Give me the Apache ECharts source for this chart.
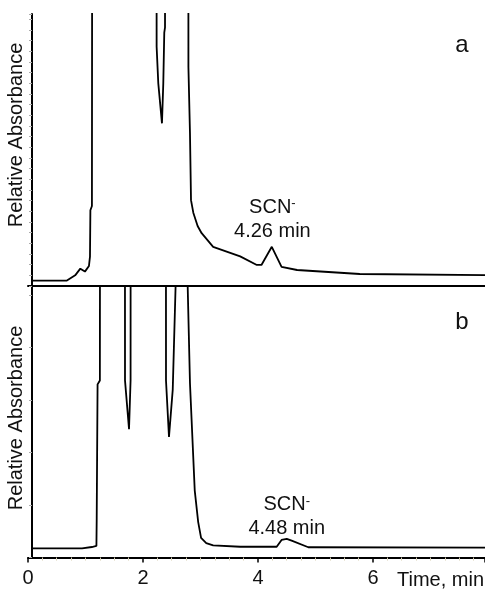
<!DOCTYPE html>
<html>
<head>
<meta charset="utf-8">
<script src="https://cdn.jsdelivr.net/npm/echarts@6/dist/echarts.min.js"></script>
<style>
html,body{margin:0;padding:0;background:#fff;}
#main{width:485px;height:589px;}
</style>
</head>
<body>
<div id="main"></div>
<script>
var font = 'Liberation Sans, Arial, sans-serif';

// chromatogram a (time in min, relative absorbance, peaks run off scale)
var timeA  = [0.07, 0.67, 0.82, 0.91, 0.99, 1.06, 1.078, 1.085, 1.112, 1.118, 2.235, 2.237, 2.266, 2.33, 2.353, 2.37, 2.383, 2.385,
              2.787, 2.79, 2.817, 2.835, 2.875, 2.95, 3.02, 3.22, 3.69, 3.98, 4.06, 4.24, 4.41, 4.68, 5.77, 7.95];
var valueA = [0, 0, 2.0, 4.5, 3.4, 5.5, 9, 26.4, 28, 200, 200, 87.7, 74, 59, 74, 93, 95, 200,
              200, 80, 55.4, 30.2, 25.5, 20.5, 17.8, 12.7, 9.1, 5.9, 5.9, 12.7, 5.2, 4.0, 2.5, 2.1];

// chromatogram b
var timeB  = [0.07, 0.94, 1.11, 1.19, 1.195, 1.21, 1.25, 1.255, 1.685, 1.687, 1.757, 1.784, 1.786,
              2.398, 2.40, 2.452, 2.517, 2.567, 2.569, 2.775, 2.777, 2.817, 2.90, 2.96, 3.01, 3.10, 3.22, 3.69,
              4.325, 4.41, 4.50, 4.585, 4.875, 7.95];
var valueB = [0, 0, 0.5, 0.9, 11.5, 62.5, 64, 200, 200, 64, 45.4, 64, 200,
              200, 64, 42.5, 60.4, 100, 200, 200, 100, 62.9, 22, 10, 4, 2, 1.1, 0.6,
              0.6, 3.2, 3.6, 2.9, 0.4, 0.3];

var panelLetters = ['a', 'b'];
var peakIon = ['SCN', 'SCN'];
var peakLabels = ['4.26 min', '4.48 min'];
var peakLabelAt = [[4.25, 27.6, 18.6], [4.50, 16.7, 7.6]];

function pairs(t, v) {
    var out = [];
    for (var i = 0; i < t.length; i++) out.push([t[i], v[i]]);
    return out;
}

var myChart = echarts.init(document.getElementById('main'));

function xAx(idx, showLabels) {
    return {
        type: 'value', gridIndex: idx, min: 0, max: 7.948, interval: 2,
        axisLine: {show: true, onZero: false, lineStyle: {color: '#000', width: 2}},
        axisTick: {show: showLabels, length: 5, lineStyle: {color: '#000', width: 1.5}},
        minorTick: {show: showLabels, splitNumber: 8, length: 3, lineStyle: {color: '#d6cfb3'}},
        axisLabel: {show: showLabels, fontFamily: font, fontSize: 20, color: '#111', margin: 11, showMaxLabel: false},
        splitLine: {show: false}
    };
}
function yAx(idx, min, step) {
    return {
        type: 'value', gridIndex: idx, min: min, max: 100, interval: step, offset: -4,
        axisLine: {show: true, onZero: false, lineStyle: {color: '#000', width: 2}},
        axisTick: {show: true, length: 3, lineStyle: {color: '#aaa'}},
        axisLabel: {show: false},
        splitLine: {show: false}
    };
}

var option = {
    backgroundColor: '#fff',
    animation: false,
    grid: [
        {left: 28, right: 0, top: 14, bottom: 303},
        {left: 28, right: 0, top: 286, bottom: 31.5}
    ],
    xAxis: [xAx(0, false), xAx(1, true)],
    yAxis: [yAx(0, -2, 4), yAx(1, -3.5, 20)],
    series: [
        {type: 'line', xAxisIndex: 0, yAxisIndex: 0, data: pairs(timeA, valueA), symbol: 'none',
         lineStyle: {color: '#000', width: 1.8}, clip: true},
        {type: 'line', xAxisIndex: 1, yAxisIndex: 1, data: pairs(timeB, valueB), symbol: 'none',
         lineStyle: {color: '#000', width: 1.8}, clip: true}
    ]
};
myChart.setOption(option);

var graphics = [
    {type: 'text', x: 16, y: 135, rotation: Math.PI / 2,
     style: {text: 'Relative Absorbance', font: '20px ' + font, fill: '#111', align: 'center', verticalAlign: 'middle'}},
    {type: 'text', x: 16, y: 418, rotation: Math.PI / 2,
     style: {text: 'Relative Absorbance', font: '20px ' + font, fill: '#111', align: 'center', verticalAlign: 'middle'}},
    {type: 'text', x: 484, y: 580,
     style: {text: 'Time, min', font: '20px ' + font, fill: '#111', align: 'right', verticalAlign: 'middle'}},
    {type: 'text', x: 462, y: 45,
     style: {text: panelLetters[0], font: '24px ' + font, fill: '#111', align: 'center', verticalAlign: 'middle'}},
    {type: 'text', x: 462, y: 322,
     style: {text: panelLetters[1], font: '24px ' + font, fill: '#111', align: 'center', verticalAlign: 'middle'}}
];
for (var k = 0; k < 2; k++) {
    var p1 = myChart.convertToPixel({gridIndex: k}, [peakLabelAt[k][0], peakLabelAt[k][1]]);
    var p2 = myChart.convertToPixel({gridIndex: k}, [peakLabelAt[k][0], peakLabelAt[k][2]]);
    graphics.push({type: 'text', x: p1[0], y: p1[1],
        style: {text: '{m|' + peakIon[k] + '}{s|-}', align: 'center', verticalAlign: 'middle',
            rich: {m: {font: '20px ' + font, fill: '#111'}, s: {font: '13px ' + font, fill: '#111', verticalAlign: 'top', padding: [0, 0, 7, 0]}}}});
    graphics.push({type: 'text', x: p2[0], y: p2[1],
        style: {text: peakLabels[k], font: '20px ' + font, fill: '#111', align: 'center', verticalAlign: 'middle'}});
}
myChart.setOption({graphic: graphics});

window.addEventListener('resize', function () {
    myChart.resize();
});
</script>
</body>
</html>
